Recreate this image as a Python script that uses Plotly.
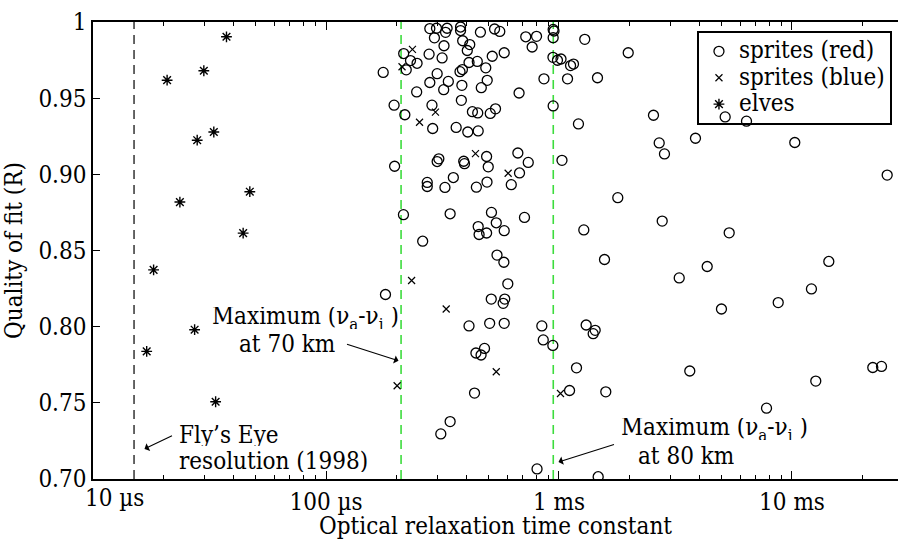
import plotly.graph_objects as go

# ---------------- data (time constant in microseconds, quality of fit R) ----------------
red_t = [279, 298, 331, 326, 378, 378, 460, 529, 557, 292,
         321, 386, 414, 404, 720, 801, 767, 944, 952, 944,
         1290, 215.5, 230.5, 246, 221, 277, 315, 411, 446, 485,
         517, 582, 385, 376, 300, 176, 279, 335, 320, 383,
         464, 492, 245, 674, 862, 942, 985, 1020, 1121, 1154,
         1982, 1088, 1463, 381, 196, 218, 285, 425, 448, 507,
         534, 944, 1212, 2544, 5167, 6379, 287, 362, 406, 450,
         2692, 2836, 3853, 10280, 25620, 197, 305, 300, 390, 393,
         489, 497, 666, 738, 1030, 272, 272, 324, 352, 442,
         491, 677, 624, 1788, 711, 1278, 2773, 5376, 215, 341,
         513, 538, 450, 454, 489, 582, 260, 542, 580, 603,
         180, 512, 585, 576, 411, 504, 582, 844, 856, 941,
         479, 440, 463, 434, 341, 311, 805, 1473, 1568, 4326,
         3281, 14390, 12120, 8727, 4981, 1308, 1430, 1402, 1189, 3642,
         1110, 1588, 22220, 24220, 12650, 7775]
red_R = [0.9957, 0.9959, 0.9959, 0.9932, 0.9967, 0.9944, 0.9933, 0.9954, 0.9938, 0.9896,
         0.9844, 0.9877, 0.9852, 0.9813, 0.9903, 0.9906, 0.9836, 0.9951, 0.9941, 0.9897,
         0.9886, 0.9793, 0.9747, 0.9729, 0.9686, 0.9789, 0.9764, 0.9734, 0.9741, 0.9699,
         0.9775, 0.9798, 0.9688, 0.9674, 0.9661, 0.9669, 0.9603, 0.9610, 0.9556, 0.9584,
         0.9569, 0.9617, 0.9541, 0.9534, 0.9627, 0.9768, 0.9749, 0.9757, 0.9714, 0.9724,
         0.9798, 0.9627, 0.9634, 0.9486, 0.9454, 0.9391, 0.9454, 0.9411, 0.9403, 0.9400,
         0.9430, 0.9449, 0.9331, 0.9388, 0.9377, 0.9349, 0.9301, 0.9308, 0.9278, 0.9285,
         0.9206, 0.9134, 0.9237, 0.9209, 0.8995, 0.9053, 0.9102, 0.9084, 0.9086, 0.9070,
         0.9117, 0.9049, 0.9140, 0.9078, 0.9092, 0.8947, 0.8920, 0.8914, 0.8979, 0.8916,
         0.8949, 0.9009, 0.8932, 0.8847, 0.8717, 0.8635, 0.8693, 0.8616, 0.8735, 0.8741,
         0.8750, 0.8682, 0.8657, 0.8605, 0.8615, 0.8630, 0.8561, 0.8470, 0.8423, 0.8281,
         0.8211, 0.8181, 0.8181, 0.8153, 0.8005, 0.8022, 0.8022, 0.8005, 0.7913, 0.7877,
         0.7857, 0.7827, 0.7814, 0.7564, 0.7377, 0.7296, 0.7066, 0.7015, 0.8441, 0.8395,
         0.8320, 0.8428, 0.8248, 0.8158, 0.8116, 0.8011, 0.7976, 0.7954, 0.7730, 0.7709,
         0.7581, 0.7572, 0.7732, 0.7739, 0.7643, 0.7465]

blue_t = [235, 212, 295, 252, 438, 605, 233, 328, 538, 202, 1015]
blue_R = [0.9820, 0.9706, 0.9408, 0.9342, 0.9136, 0.9007, 0.8303, 0.8116, 0.7704, 0.7612, 0.7561]

elves_t = [37.4, 29.9, 20.8, 33.0, 28.0, 47.1, 23.6, 44.1, 18.2, 27.3, 17.0, 33.6]
elves_R = [0.9903, 0.9680, 0.9618, 0.9278, 0.9224, 0.8886, 0.8818, 0.8614, 0.8373, 0.7980, 0.7838, 0.7507]

ref_black_t = [15]          # Fly's Eye resolution (1998)
ref_green_t = [210, 945]    # Maximum (nu_a - nu_i) at 70 km and 80 km

x_tick_vals = [100, 1000, 10000]
x_tick_text = ["100 µs", "1 ms", "10 ms"]
first_tick_text = "10 µs"
y_tick_vals = [0.70, 0.75, 0.80, 0.85, 0.90, 0.95, 1.0]
y_tick_text = ["0.70", "0.75", "0.80", "0.85", "0.90", "0.95", "1"]
x_minor_vals = [k * 10 ** e for e in range(1, 5) for k in range(2, 10)]

Y_RANGE = [0.70, 1.0]
FONT = "DejaVu Serif Condensed"
FS = 24

fig = go.Figure()

for t in ref_black_t:
    fig.add_trace(go.Scatter(x=[t, t], y=Y_RANGE, mode="lines", showlegend=False,
                             hoverinfo="skip",
                             line=dict(color="black", width=1.2, dash="9px,6px")))
for t in ref_green_t:
    fig.add_trace(go.Scatter(x=[t, t], y=Y_RANGE, mode="lines", showlegend=False,
                             hoverinfo="skip",
                             line=dict(color="#3ddc3d", width=1.6, dash="9px,6px")))

def lname(s):
    return '<span style="font-size:%dpx">%s</span>' % (FS, s)

fig.add_trace(go.Scatter(x=red_t, y=red_R, mode="markers", name=lname("sprites (red)"),
                         marker=dict(symbol="circle-open", size=10, color="black",
                                     line=dict(width=1.3, color="black"))))
fig.add_trace(go.Scatter(x=blue_t, y=blue_R, mode="markers", name=lname("sprites (blue)"),
                         marker=dict(symbol="x-thin-open", size=7, color="black",
                                     line=dict(width=1.2, color="black"))))
fig.add_trace(go.Scatter(x=elves_t, y=elves_R, mode="markers", name=lname("elves"),
                         marker=dict(symbol="asterisk-open", size=9, color="black",
                                     line=dict(width=1.4, color="black"))))

ann = []
def txt(xl, y, s, anchor="left"):
    ann.append(dict(x=xl, y=y, xref="x", yref="y", text=s, showarrow=False,
                    xanchor=anchor, yanchor="middle", height=22, borderpad=0,
                    font=dict(family=FONT, size=FS, color="black")))

def arrow(hx, hy, tx, ty):
    ann.append(dict(x=hx, y=hy, ax=tx, ay=ty, xref="x", yref="y", axref="x", ayref="y",
                    text="", showarrow=True, arrowhead=1, arrowsize=1.3, arrowwidth=1.1,
                    arrowcolor="black", standoff=0, startstandoff=0))

nu = "\u03bd"
txt(1.3627, 0.7290, "Fly\u2019s Eye")
txt(1.3627, 0.7120, "resolution (1998)")
arrow(1.221, 0.7197, 1.3455, 0.7289)

txt(1.5043, 0.8059, "Maximum (%s<sub>a</sub>-%s<sub>i</sub> )" % (nu, nu))
txt(1.6202, 0.7888, "at 70 km")
arrow(2.3112, 0.7776, 2.0837, 0.7888)

txt(3.2639, 0.7329, "Maximum (%s<sub>a</sub>-%s<sub>i</sub> )" % (nu, nu))
txt(3.3350, 0.7151, "at 80 km")
arrow(2.9979, 0.7112, 3.2425, 0.7230)

# first x tick label, shifted right as in the original
ann.append(dict(x=1, y=0, xref="x", yref="paper", text=first_tick_text, showarrow=False,
                xanchor="center", yanchor="top", xshift=21, yshift=-3,
                font=dict(family=FONT, size=FS, color="black")))

fig.update_layout(
    width=898, height=540,
    margin=dict(l=93, r=0, t=22, b=61, autoexpand=False),
    paper_bgcolor="white", plot_bgcolor="white",
    font=dict(family=FONT, size=FS, color="black"),
    showlegend=True,
    legend=dict(x=0.9925, y=0.980, xanchor="right", yanchor="top",
                bgcolor="rgba(255,255,255,0)", bordercolor="black", borderwidth=2,
                font=dict(family=FONT, size=18, color="black"),
                itemwidth=30, tracegroupgap=0),
    annotations=ann,
    xaxis=dict(type="log", range=[1, 4.455], tickmode="array",
               tickvals=x_tick_vals, ticktext=x_tick_text,
               ticks="inside", ticklen=8, tickwidth=1, tickcolor="black",
               showline=True, linecolor="black", linewidth=1.5, mirror="ticks",
               showgrid=False, zeroline=False,
               minor=dict(tickvals=x_minor_vals, ticks="inside", ticklen=4,
                          tickwidth=1, tickcolor="black", showgrid=False),
               tickfont=dict(family=FONT, size=FS, color="black"),
               title=dict(text="Optical relaxation time constant",
                          font=dict(family=FONT, size=FS, color="black"), standoff=8)),
    yaxis=dict(range=Y_RANGE, tickmode="array", tickvals=y_tick_vals, ticktext=y_tick_text,
               ticks="inside", ticklen=7, tickwidth=1, tickcolor="black",
               showline=True, linecolor="black", linewidth=1.5,
               showgrid=False, zeroline=False,
               tickfont=dict(family=FONT, size=FS, color="black"),
               title=dict(text="Quality of fit (R)",
                          font=dict(family=FONT, size=FS, color="black"), standoff=10)),
)

fig.write_html("out.html")
